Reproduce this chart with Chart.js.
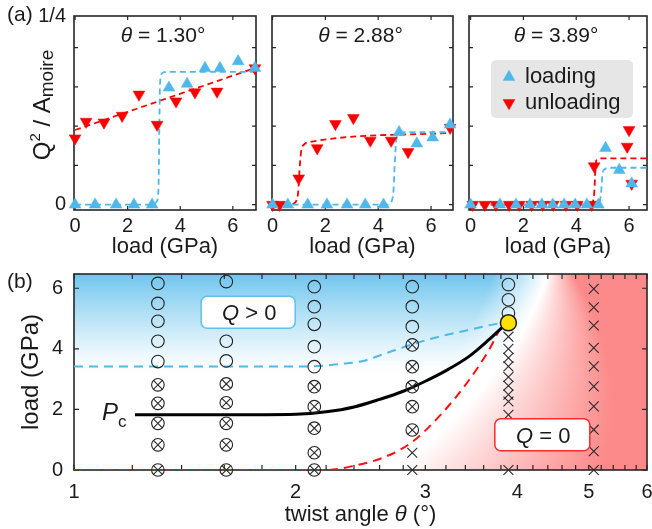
<!DOCTYPE html>
<html>
<head>
<meta charset="utf-8">
<script src="https://cdn.jsdelivr.net/npm/chart.js@4.4.1/dist/chart.umd.min.js"></script>
<style>
  body { margin: 0; background: #fff; }
  #wrap { position: relative; width: 652px; height: 529px; overflow: hidden; background: #fff; }
  canvas { position: absolute; }
</style>
</head>
<body>
<div id="wrap">
  <canvas id="a1" width="268" height="260" style="left:0;top:0"></canvas>
  <canvas id="a2" width="200" height="260" style="left:262px;top:0"></canvas>
  <canvas id="a3" width="193" height="260" style="left:459px;top:0"></canvas>
  <canvas id="b" width="652" height="269" style="left:0;top:260px"></canvas>
</div>
<script>
// ---------- (a) Q^2/A_moire against load, three twist angles ----------
const twistAngles = [1.30, 2.88, 3.89];
const loadTicks = [0, 2, 4, 6];
const qTicks = [0, 0.052, 0.104, 0.156, 0.208];
const qLabelTicks = [0, 0.25];

// theta = 1.30
const load130Up = [0, 0.76, 1.56, 2.24, 2.93, 3.57, 4.26, 4.94, 5.51, 6.2, 6.84];
const q130Up = [0, 0, 0, 0, 0, 0.155, 0.16, 0.181, 0.181, 0.19, 0.181];
const load130Down = [0, 0.42, 1.1, 1.79, 2.43, 3.12, 3.84, 4.56, 5.4, 6.84];
const q130Down = [0.088, 0.110, 0.109, 0.118, 0.146, 0.106, 0.137, 0.149, 0.150, 0.181];
const fit130UpX = [0, 2.95, 3.1, 3.17, 3.2, 3.23, 3.3, 3.45, 6.84];
const fit130UpY = [0, 0, 0.004, 0.02, 0.09, 0.16, 0.174, 0.176, 0.176];
const fit130DownX = [0, 6.84];
const fit130DownY = [0.099, 0.181];

// theta = 2.88
const load288Up = [0, 0.58, 1.33, 2.06, 2.82, 3.51, 4.2, 4.79, 5.46, 6.06, 6.72];
const q288Up = [0, 0, 0, 0, 0, 0, 0, 0.096, 0.081, 0.089, 0.106];
const load288Down = [0, 0.27, 0.99, 1.69, 2.38, 3.06, 3.7, 4.49, 5.13, 6.72];
const q288Down = [0, 0, 0.035, 0.075, 0.107, 0.115, 0.085, 0.085, 0.07, 0.102];
const fit288UpX = [0, 4.35, 4.5, 4.58, 4.62, 4.68, 4.8, 5.0, 6.72];
const fit288UpY = [0, 0, 0.004, 0.02, 0.05, 0.085, 0.094, 0.096, 0.096];
const fit288DownX = [0, 0.75, 0.9, 0.98, 1.02, 1.08, 1.2, 1.4, 6.72];
const fit288DownY = [0, 0.001, 0.005, 0.02, 0.045, 0.07, 0.08, 0.083, 0.095];

// theta = 3.89
const load389Up = [0, 1.11, 1.72, 2.25, 2.70, 3.11, 3.54, 3.96, 4.40, 4.84, 5.11, 5.63, 6.10];
const q389Up = [0, 0, 0, 0, 0, 0, 0, 0, 0, 0, 0.075, 0.046, 0.028];
const load389Down = [0.08, 0.54, 0.96, 1.46, 1.84, 2.31, 2.73, 3.13, 3.61, 4.04, 4.58, 4.68, 5.93, 6.0, 6.1];
const q389Down = [0, 0, 0, 0, 0, 0, 0, 0, 0, 0, 0, 0.051, 0.077, 0.099, 0.028];
const fit389UpX = [0, 4.75, 4.88, 4.94, 4.97, 5.0, 5.08, 5.25, 6.75];
const fit389UpY = [0, 0, 0.003, 0.015, 0.03, 0.042, 0.047, 0.049, 0.049];
const fit389DownX = [0, 4.5, 4.62, 4.68, 4.71, 4.74, 4.8, 4.95, 6.75];
const fit389DownY = [0, 0, 0.003, 0.015, 0.035, 0.055, 0.06, 0.0615, 0.0615];

// ---------- (b) phase diagram: twist angle against load ----------
const thetaLabelTicks = [1, 2, 3, 4, 5, 6];
const thetaTickMarks = [1, 1.2, 1.4, 1.6, 1.8, 2, 2.2, 2.4, 2.6, 2.8, 3, 3.2, 3.4, 3.6, 3.8, 4,
  4.2, 4.4, 4.6, 4.8, 5, 5.2, 5.4, 5.6, 5.8, 6];
const loadLabelTicks = [0, 2, 4, 6];

// open circles: Q > 0
const openTheta = [1.30, 1.30, 1.30, 1.30, 1.30, 1.61, 1.61, 1.61, 2.12, 2.12, 2.12, 2.12, 2.12,
  2.88, 2.88, 2.88, 3.89, 3.89, 3.89];
const openLoad = [6.16, 5.50, 4.91, 4.25, 3.58, 6.22, 4.25, 3.60, 6.05, 5.39, 4.81, 4.07, 3.41,
  6.05, 5.39, 4.73, 6.12, 5.62, 5.18];
// crossed circles
const crossedTheta = [1.30, 1.30, 1.30, 1.30, 1.30, 1.61, 1.61, 1.61, 1.61, 1.61,
  2.12, 2.12, 2.12, 2.12, 2.12, 2.88, 2.88, 2.88, 2.88, 2.88];
const crossedLoad = [2.81, 2.20, 1.54, 0.83, 0, 2.84, 2.22, 1.54, 0.83, 0,
  2.75, 2.09, 1.38, 0.57, 0, 4.13, 3.41, 2.75, 2.09, 1.32];
// crosses: Q = 0
const crossTheta = [2.88, 2.88, 3.89, 3.89, 3.89, 3.89, 3.89, 3.89, 3.89, 3.89, 3.89, 3.89,
  5.08, 5.08, 5.08, 5.08, 5.08, 5.08, 5.08, 5.08, 5.08, 5.08];
const crossLoad = [0.57, 0, 4.40, 4.00, 3.70, 3.42, 3.07, 2.78, 2.49, 2.26, 1.82, 0,
  5.98, 5.37, 4.77, 4.03, 3.42, 2.76, 2.10, 1.33, 0.62, 0];
const criticalTheta = [3.89];
const criticalLoad = [4.86];

const pcTheta = [1.21, 1.6, 2.0, 2.2, 2.4, 2.6, 2.8, 3.0, 3.2, 3.44, 3.66, 3.81, 3.89];
const pcLoad = [1.82, 1.82, 1.84, 1.92, 2.08, 2.33, 2.6, 2.93, 3.28, 3.75, 4.3, 4.69, 4.86];
const upTheta = [1, 2.1, 2.3, 2.47, 2.65, 2.88, 3.13, 3.4, 3.65, 3.89];
const upLoad = [3.42, 3.42, 3.5, 3.6, 3.85, 4.15, 4.4, 4.6, 4.77, 4.9];
const downTheta = [1, 2.2, 2.39, 2.65, 2.88, 3.16, 3.44, 3.66, 3.81, 3.89];
const downLoad = [0, 0, 0.13, 0.44, 0.93, 1.87, 2.97, 3.96, 4.73, 4.86];

const BLUE = '#4db8e9';
const RED = '#f80000';
const INK = '#1a1a1a';
const FONT = '"Liberation Sans", Arial, Helvetica, sans-serif';
Chart.defaults.font.family = FONT;
Chart.defaults.color = INK;

const pts = (xs, ys) => xs.map((x, i) => ({ x, y: ys[i] }));

function rich(ctx, parts, x, y, align) {
  const f = p => (p[2] ? 'italic ' : '') + p[1] + 'px ' + FONT;
  let w = 0;
  parts.forEach(p => { ctx.font = f(p); w += ctx.measureText(p[0]).width; });
  let cx = align === 'center' ? x - w / 2 : x;
  ctx.textAlign = 'left';
  ctx.textBaseline = 'alphabetic';
  parts.forEach(p => {
    ctx.font = f(p);
    ctx.fillText(p[0], cx, y + (p[3] || 0));
    cx += ctx.measureText(p[0]).width;
  });
}

function roundBox(ctx, x, y, w, h, r) {
  ctx.beginPath();
  ctx.moveTo(x + r, y);
  ctx.arcTo(x + w, y, x + w, y + h, r);
  ctx.arcTo(x + w, y + h, x, y + h, r);
  ctx.arcTo(x, y + h, x, y, r);
  ctx.arcTo(x, y, x + w, y, r);
  ctx.closePath();
}

// box and inward ticks on all four sides
function framePlugin(xMarks, yMarks, len) {
  return {
    id: 'frame',
    beforeDatasetsDraw(chart) {
      const { ctx, chartArea: a, scales: { x, y } } = chart;
      ctx.save();
      ctx.strokeStyle = '#262626';
      ctx.lineWidth = 1.2;
      ctx.beginPath();
      xMarks.forEach(v => {
        const p = x.getPixelForValue(v);
        ctx.moveTo(p, a.bottom); ctx.lineTo(p, a.bottom - len);
        ctx.moveTo(p, a.top); ctx.lineTo(p, a.top + len);
      });
      yMarks.forEach(v => {
        const p = y.getPixelForValue(v);
        ctx.moveTo(a.left, p); ctx.lineTo(a.left + len, p);
        ctx.moveTo(a.right, p); ctx.lineTo(a.right - len, p);
      });
      ctx.stroke();
      ctx.lineWidth = 1.6;
      ctx.strokeRect(a.left, a.top, a.right - a.left, a.bottom - a.top);
      ctx.restore();
    }
  };
}

// hidden grid; its tick length only sets the gap between axis and labels
const gap = n => ({ display: false, drawTicks: true, tickLength: n });
// fixed scale size, no extra room asked for overhanging labels
const fixSize = (key, n) => s => {
  s[key] = n;
  s.paddingLeft = s.paddingRight = s.paddingTop = s.paddingBottom = 0;
};

function panelA(id, o) {
  const notes = { id: 'notes', afterDraw: chart => o.notes(chart) };
  const fit = (xs, ys, c) => ({
    data: pts(xs, ys), showLine: true, pointRadius: 0, borderColor: c, borderWidth: 1.8,
    borderDash: [6, 4], cubicInterpolationMode: 'monotone', tension: 0.4
  });
  return new Chart(document.getElementById(id), {
    type: 'scatter',
    data: {
      datasets: [
        { label: 'loading', data: pts(o.upX, o.upY), pointStyle: 'triangle', pointRadius: 6.8,
          backgroundColor: BLUE, borderColor: BLUE, borderWidth: 0.5, clip: false },
        { label: 'unloading', data: pts(o.downX, o.downY), pointStyle: 'triangle', pointRotation: 180,
          pointRadius: 6.8, backgroundColor: RED, borderColor: RED, borderWidth: 0.5, clip: false },
        fit(o.fitUpX, o.fitUpY, BLUE),
        fit(o.fitDownX, o.fitDownY, RED)
      ]
    },
    options: {
      responsive: false, animation: false, devicePixelRatio: 1, events: [],
      layout: { autoPadding: false, padding: { top: 16, right: o.padRight, left: 0, bottom: 0 } },
      plugins: { legend: { display: false }, tooltip: { enabled: false } },
      scales: {
        x: {
          type: 'linear', min: o.xMin, max: o.xMax,
          grid: gap(4), border: { display: false },
          afterBuildTicks: s => { s.ticks = loadTicks.map(v => ({ value: v })); },
          ticks: { font: { size: 20 }, color: INK, padding: 0, maxRotation: 0, autoSkip: false },
          title: { display: true, text: 'load (GPa)', font: { size: 22 }, color: INK, padding: 0 },
          afterFit: fixSize('height', 50)
        },
        y: {
          min: -0.007, max: 0.25,
          grid: gap(8), border: { display: false },
          afterBuildTicks: s => { s.ticks = qLabelTicks.map(v => ({ value: v })); },
          ticks: { display: o.yLabels, font: { size: 20 }, color: INK, padding: 0,
                   callback: v => (v === 0 ? '0' : '1/4') },
          afterFit: fixSize('width', o.yWidth)
        }
      }
    },
    plugins: [framePlugin(loadTicks, qTicks, 4), notes]
  });
}

function angleTitle(chart, t) {
  const { ctx, chartArea: a } = chart;
  ctx.save();
  ctx.fillStyle = INK;
  rich(ctx, [['θ', 21, true], [' = ' + t.toFixed(2) + '°', 21]], (a.left + a.right) / 2 - 2, a.top + 26, 'center');
  ctx.restore();
}

panelA('a1', {
  upX: load130Up, upY: q130Up, downX: load130Down, downY: q130Down,
  fitUpX: fit130UpX, fitUpY: fit130UpY, fitDownX: fit130DownX, fitDownY: fit130DownY,
  xMin: -0.04, xMax: 6.88, padRight: 12, yWidth: 74, yLabels: true,
  notes(chart) {
    angleTitle(chart, twistAngles[0]);
    const ctx = chart.ctx;
    ctx.save();
    ctx.fillStyle = INK;
    rich(ctx, [['(a)', 21]], 7, 21, 'left');
    ctx.translate(50, 105);
    ctx.rotate(-Math.PI / 2);
    rich(ctx, [['Q', 24], ['2', 15, false, -10], [' / A', 24], ['moire', 19, false, 3]], 0, 0, 'center');
    ctx.restore();
  }
});

panelA('a2', {
  upX: load288Up, upY: q288Up, downX: load288Down, downY: q288Down,
  fitUpX: fit288UpX, fitUpY: fit288UpY, fitDownX: fit288DownX, fitDownY: fit288DownY,
  xMin: -0.02, xMax: 6.83, padRight: 9, yWidth: 10, yLabels: false,
  notes(chart) { angleTitle(chart, twistAngles[1]); }
});

panelA('a3', {
  upX: load389Up, upY: q389Up, downX: load389Down, downY: q389Down,
  fitUpX: fit389UpX, fitUpY: fit389UpY, fitDownX: fit389DownX, fitDownY: fit389DownY,
  xMin: -0.06, xMax: 6.68, padRight: 5, yWidth: 10, yLabels: false,
  notes(chart) {
    angleTitle(chart, twistAngles[2]);
    const { ctx, chartArea: a } = chart;
    const left = a.left + 22, top = a.top + 44;
    ctx.save();
    ctx.fillStyle = '#e6e6e6';
    roundBox(ctx, left, top, 142, 58, 5);
    ctx.fill();
    chart.data.datasets.slice(0, 2).forEach((ds, i) => {
      ctx.fillStyle = ds.backgroundColor;
      ctx.strokeStyle = ds.borderColor;
      ctx.lineWidth = 0.5;
      Chart.helpers.drawPoint(ctx, { pointStyle: 'triangle', radius: 6.8, rotation: ds.pointRotation || 0, borderWidth: 0.5 },
        left + 18, top + 17 + i * 26);
      ctx.fillStyle = INK;
      rich(ctx, [[ds.label, 22]], left + 34, top + 23 + i * 26, 'left');
    });
    ctx.restore();
  }
});

// ---------- (b) ----------
// blue (Q > 0) and red (Q = 0) shading behind the markers
const backdrop = {
  id: 'backdrop',
  beforeDatasetsDraw(chart) {
    const { ctx, chartArea: a } = chart;
    const L = Math.round(a.left), T = Math.round(a.top);
    const W = Math.round(a.right) - L, H = Math.round(a.bottom) - T;
    const img = ctx.createImageData(W, H);
    for (let j = 0; j < H; j++) {
      const v = j / H;
      const xb = 0.8255 - 0.1047 * v - 0.1606 * v * v;
      const wr = 0.0436 + 0.314 * v;
      const tv = Math.pow(Math.max(0, (0.5 - v) / 0.5), 1.2);
      for (let i = 0; i < W; i++) {
        const u = i / W;
        let r = 255, g = 255, b = 255;
        if (u > xb) {
          const t = Math.min(1, (u - xb) / wr);
          r -= t * 3; g -= t * 117; b -= t * 117;
        } else {
          const t = tv * Math.min(1, (xb - u) / 0.096);
          r -= t * 143; g -= t * 57; b -= t * 17;
        }
        const k = (j * W + i) * 4;
        img.data[k] = r; img.data[k + 1] = g; img.data[k + 2] = b; img.data[k + 3] = 255;
      }
    }
    ctx.putImageData(img, L, T);
  }
};

function labelBox(ctx, cx, cy, w, h, edge, parts) {
  ctx.fillStyle = '#fff';
  ctx.strokeStyle = edge;
  ctx.lineWidth = 1.5;
  roundBox(ctx, cx - w / 2, cy - h / 2, w, h, 6);
  ctx.fill();
  ctx.stroke();
  ctx.fillStyle = INK;
  rich(ctx, parts, cx + 1, cy + 8, 'center');
}

const notesB = {
  id: 'notesB',
  afterDraw(chart) {
    const { ctx, chartArea: a, scales: { x, y } } = chart;
    ctx.save();
    ctx.fillStyle = INK;
    rich(ctx, [['(b)', 21]], 7, 27.6, 'left');
    labelBox(ctx, x.getPixelForValue(1.724), y.getPixelForValue(5.21), 94, 32, '#5ec1ec',
      [['Q', 22, true], [' > 0', 22]]);
    labelBox(ctx, x.getPixelForValue(4.325), y.getPixelForValue(1.165), 95, 32, '#ff2a2a',
      [['Q', 22, true], [' = 0', 22]]);
    const sx = x.getPixelForValue(pcTheta[0]), sy = y.getPixelForValue(pcLoad[0]);
    ctx.fillStyle = INK;
    rich(ctx, [['P', 24, true], ['c', 17, false, 7]], sx - 33, sy + 5.5, 'left');
    rich(ctx, [['twist angle ', 22], ['θ', 22, true], [' (°)', 22]], (a.left + a.right) / 2, 261, 'center');
    ctx.restore();
  }
};

const curve = (xs, ys, c, w, dash) => ({
  data: pts(xs, ys), showLine: true, pointRadius: 0, borderColor: c, borderWidth: w,
  borderDash: dash, cubicInterpolationMode: 'monotone', tension: 0.4
});
const ring = (xs, ys) => ({
  data: pts(xs, ys), pointStyle: 'circle', pointRadius: 6.3,
  backgroundColor: 'rgba(0,0,0,0)', borderColor: '#222', borderWidth: 1.1, clip: false
});
const cross = (xs, ys, r) => ({
  data: pts(xs, ys), pointStyle: 'crossRot', pointRadius: r,
  borderColor: '#2a2a2a', borderWidth: 1.1, clip: false
});

new Chart(document.getElementById('b'), {
  type: 'scatter',
  data: {
    datasets: [
      { data: pts(criticalTheta, criticalLoad), pointStyle: 'circle', pointRadius: 8,
        backgroundColor: '#ffe100', borderColor: '#1a1a1a', borderWidth: 1.5, clip: false },
      ring(openTheta, openLoad),
      ring(crossedTheta, crossedLoad),
      cross(crossedTheta, crossedLoad, 6.3),
      cross(crossTheta, crossLoad, 7),
      curve(pcTheta, pcLoad, '#000', 3, []),
      curve(upTheta, upLoad, '#4fb9ea', 2, [9, 6]),
      curve(downTheta, downLoad, '#ff1010', 2, [9, 6])
    ]
  },
  options: {
    responsive: false, animation: false, devicePixelRatio: 1, events: [],
    layout: { autoPadding: false, padding: { top: 14, right: 5, left: 0, bottom: 0 } },
    plugins: { legend: { display: false }, tooltip: { enabled: false } },
    scales: {
      x: {
        type: 'logarithmic', min: 1, max: 6,
        grid: gap(10), border: { display: false },
        afterBuildTicks: s => { s.ticks = thetaLabelTicks.map(v => ({ value: v })); },
        ticks: { font: { size: 20 }, color: INK, padding: 0, maxRotation: 0, autoSkip: false,
                 callback: v => String(v) },
        afterFit: fixSize('height', 59)
      },
      y: {
        min: 0, max: 6.47,
        grid: gap(11), border: { display: false },
        afterBuildTicks: s => { s.ticks = loadLabelTicks.map(v => ({ value: v })); },
        ticks: { font: { size: 20 }, color: INK, padding: 0 },
        title: { display: true, text: 'load (GPa)', font: { size: 24 }, color: INK, padding: { top: 17 } },
        afterFit: fixSize('width', 74)
      }
    }
  },
  plugins: [backdrop, framePlugin(thetaTickMarks, loadLabelTicks, 5), notesB]
});
</script>
</body>
</html>
